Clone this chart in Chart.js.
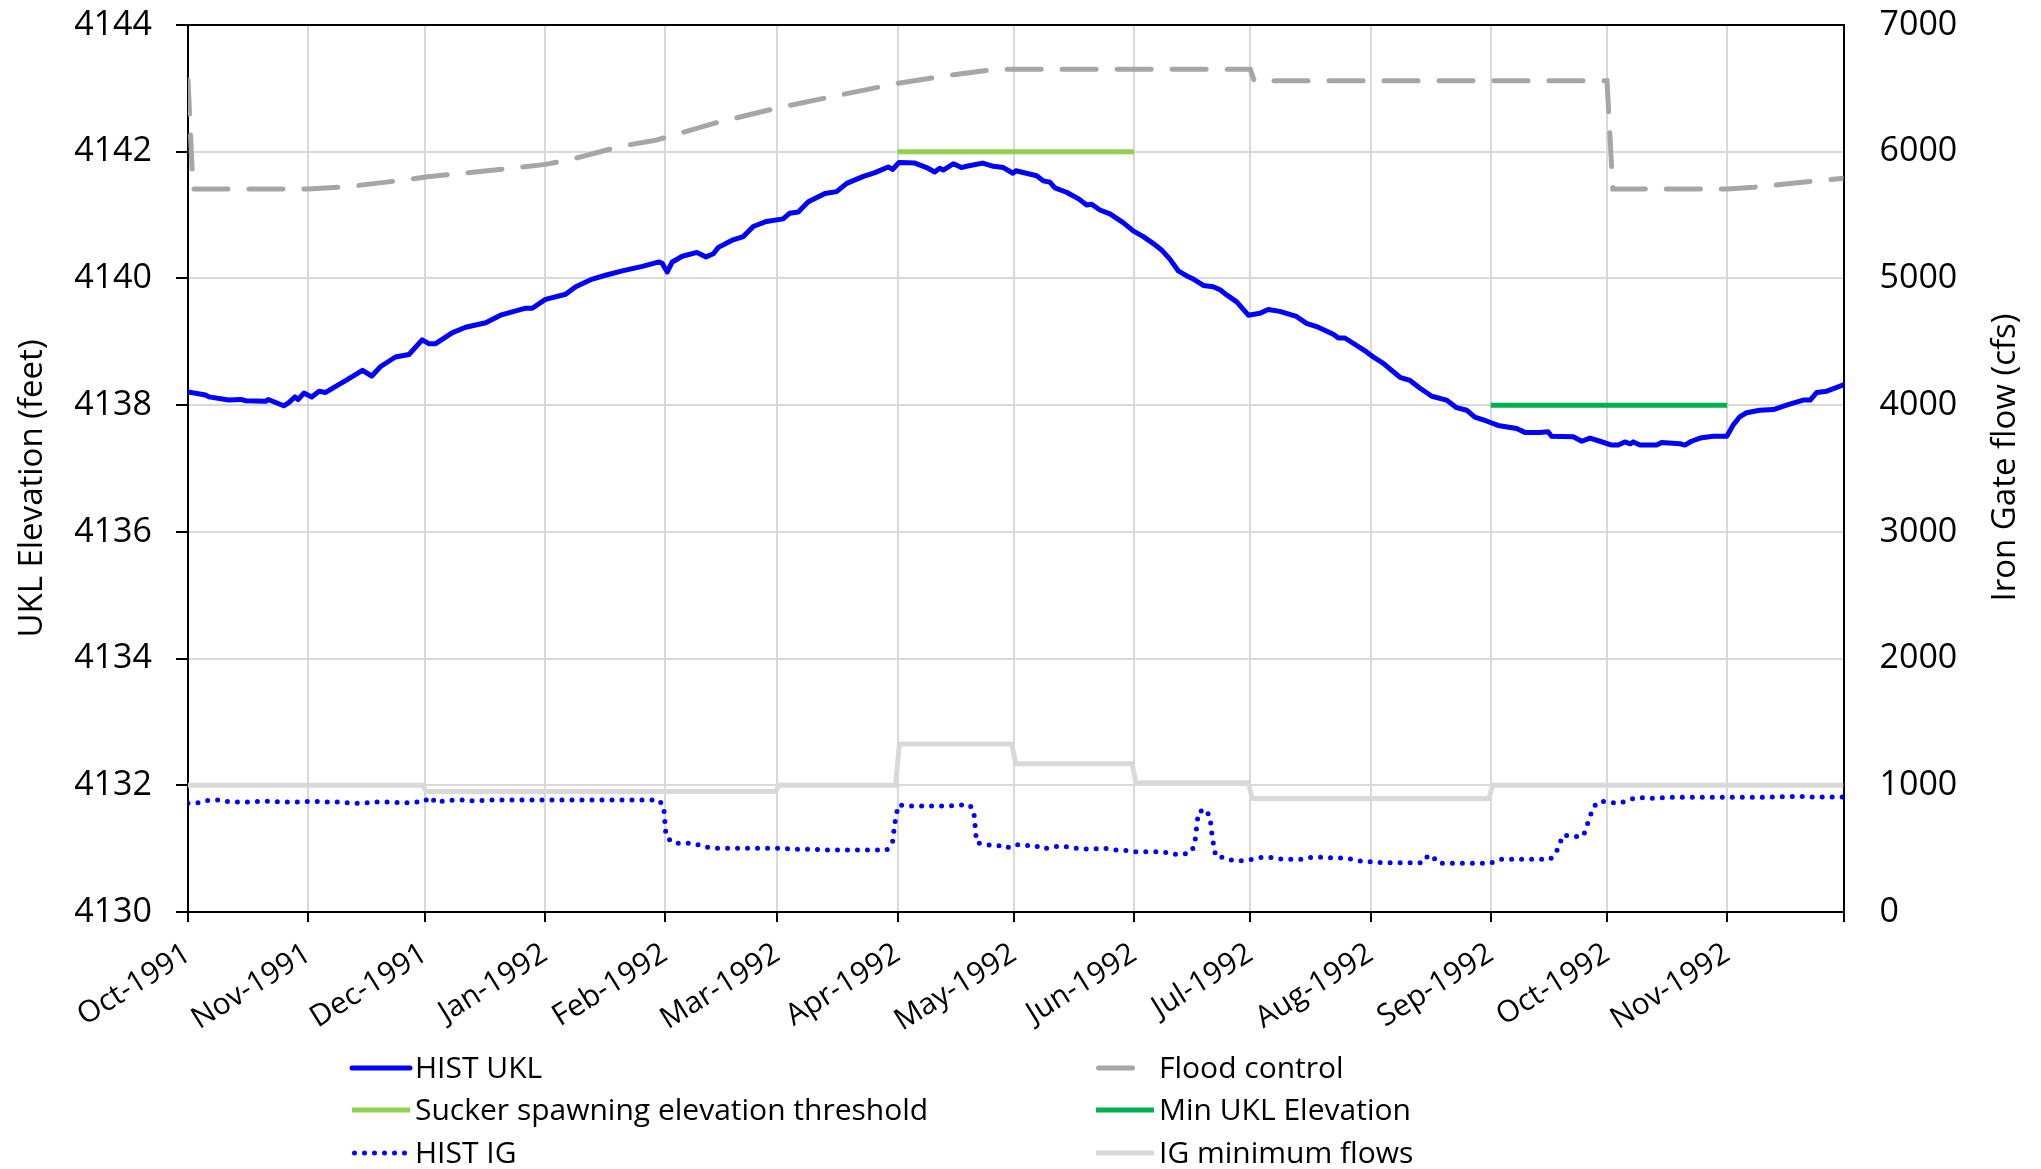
<!DOCTYPE html>
<html>
<head>
<meta charset="utf-8">
<title>UKL elevation and Iron Gate flow, WY1992</title>
<script src="https://cdn.jsdelivr.net/npm/chart.js@4.4.1/dist/chart.umd.min.js"></script>
<style>
  html, body { margin: 0; padding: 0; background: #ffffff; }
  #wrap { width: 2041px; height: 1169px; position: relative; }
</style>
</head>
<body>
<div id="wrap"><canvas id="chart"></canvas></div>
<script>
// Horizontal positions are days counted from 1 Oct 1991.
const monthTickDays = [0, 31, 61, 92, 123, 152, 183, 213, 244, 274, 305, 336, 366, 397, 427];
const monthLabels = ['Oct-1991', 'Nov-1991', 'Dec-1991', 'Jan-1992', 'Feb-1992', 'Mar-1992',
  'Apr-1992', 'May-1992', 'Jun-1992', 'Jul-1992', 'Aug-1992', 'Sep-1992', 'Oct-1992', 'Nov-1992'];

// Upper Klamath Lake elevation (feet)
const uklDays = [0, 4.5, 5.4, 10.5, 13.6, 14.9, 20, 20.7, 24.7, 26, 27.6, 28.4, 29.9, 31.9, 33.8, 35.5,
  41.5, 45, 47.4, 49.7, 53.5, 57, 60.4, 62.1, 63.9, 68.1, 71.6, 76.8, 80.6, 87.1, 88.8, 92.2, 97.4,
  100, 104.3, 107.7, 112, 117.2, 121.5, 122.3, 123.6, 124.9, 127.5, 131.3, 133.6, 135.5, 136.8, 140.6,
  143.2, 145.8, 149.2, 153.5, 155.2, 157.4, 160, 164.3, 167.3, 169.9, 174.2, 177.2, 180.6, 181.7,
  183.4, 187.5, 190.5, 192.6, 193.9, 194.8, 197.4, 199.5, 200.8, 205, 207.7, 210.3, 212.8, 213.5,
  218.9, 220.6, 222.3, 223.6, 226.6, 229.6, 231.8, 233.1, 235.2, 237.8, 241.2, 243.8, 246.4, 249,
  251.1, 253.3, 255.4, 257.6, 259.3, 261.9, 264.4, 266.2, 267.9, 270.5, 273.5, 276.5, 278.6, 281.6,
  285.9, 288.5, 291.1, 295.4, 296.7, 298.4, 304, 305.7, 308.3, 312.6, 315.2, 317.7, 320.8, 324.6,
  327.2, 329.8, 331.9, 334.9, 337.9, 342.7, 344.8, 348.7, 350.8, 351.7, 357.3, 359.5, 361.6, 364.2,
  367.2, 368.9, 370.6, 372, 372.8, 374.5, 378.8, 380.1, 384.8, 386.1, 387.8, 390, 393.4, 396.9,
  398.6, 400.3, 402, 405.4, 408.9, 412.3, 416.6, 418.4, 420.1, 422.7, 427];
const uklElev = [4138.21, 4138.16, 4138.13, 4138.08, 4138.09, 4138.07, 4138.06, 4138.09, 4137.99, 4138.04,
  4138.13, 4138.09, 4138.19, 4138.13, 4138.22, 4138.20, 4138.42, 4138.55, 4138.46, 4138.61, 4138.76,
  4138.80, 4139.03, 4138.97, 4138.97, 4139.14, 4139.23, 4139.30, 4139.42, 4139.53, 4139.53, 4139.67,
  4139.75, 4139.87, 4139.99, 4140.05, 4140.12, 4140.19, 4140.26, 4140.24, 4140.10, 4140.26, 4140.35,
  4140.41, 4140.34, 4140.39, 4140.49, 4140.61, 4140.66, 4140.82, 4140.90, 4140.94, 4141.03, 4141.05,
  4141.21, 4141.34, 4141.37, 4141.50, 4141.61, 4141.67, 4141.76, 4141.72, 4141.83, 4141.82, 4141.75,
  4141.68, 4141.74, 4141.71, 4141.81, 4141.75, 4141.77, 4141.82, 4141.77, 4141.75, 4141.66, 4141.70,
  4141.62, 4141.54, 4141.52, 4141.43, 4141.36, 4141.26, 4141.16, 4141.17, 4141.08, 4141.02, 4140.88,
  4140.75, 4140.66, 4140.55, 4140.45, 4140.30, 4140.12, 4140.04, 4139.99, 4139.89, 4139.87, 4139.82,
  4139.74, 4139.63, 4139.42, 4139.45, 4139.51, 4139.48, 4139.40, 4139.29, 4139.24, 4139.12, 4139.06,
  4139.06, 4138.84, 4138.76, 4138.66, 4138.44, 4138.39, 4138.27, 4138.14, 4138.08, 4137.96, 4137.92,
  4137.81, 4137.75, 4137.68, 4137.63, 4137.57, 4137.57, 4137.58, 4137.51, 4137.50, 4137.43, 4137.48,
  4137.43, 4137.37, 4137.37, 4137.42, 4137.39, 4137.42, 4137.37, 4137.37, 4137.41, 4137.39, 4137.37,
  4137.43, 4137.48, 4137.51, 4137.51, 4137.69, 4137.82, 4137.88, 4137.92, 4137.93, 4138.00, 4138.08,
  4138.08, 4138.20, 4138.22, 4138.32];

// Flood control elevation (feet)
const floodDays = [0, 1.3, 31, 41.5, 55.3, 61.3, 83.6, 92.2, 98.2, 112, 120.6, 137, 152, 167, 183, 198,
  208, 274, 275, 366, 367.5, 397, 404, 412, 427];
const floodElev = [4143.13, 4141.41, 4141.41, 4141.45, 4141.55, 4141.60, 4141.74, 4141.80, 4141.87,
  4142.09, 4142.18, 4142.47, 4142.69, 4142.88, 4143.08, 4143.22, 4143.30, 4143.30, 4143.12, 4143.12,
  4141.41, 4141.41, 4141.44, 4141.49, 4141.58];

// Sucker spawning elevation threshold, Apr-May 1992
const spawnDays = [183, 244];
const spawnElev = [4142, 4142];

// Minimum UKL elevation, Sep-Oct 1992
const minUklDays = [336, 397];
const minUklElev = [4138, 4138];

// Iron Gate flow (cfs)
const igDays = [0, 3, 5.6, 8.2, 10.8, 16.1, 18.7, 21.3, 23.9, 29.3, 31.9, 34.5, 39.8, 42.4, 44.9, 47.5,
  52.9, 55.5, 58.1, 60.7, 62.6, 63.9, 66.4, 69, 71.6, 74.2, 76.8, 121.5, 122.7, 123.3, 125.3, 130.5,
  133.1, 135.5, 153.5, 156.1, 161.3, 164.3, 180.2, 181.7, 182.3, 183.2, 185.8, 196.5, 199.1, 201.7,
  202.7, 203.4, 205.8, 208.6, 211, 213.3, 215.6, 218.2, 220.6, 223.2, 225.7, 228.3, 230.9, 233.5,
  236.1, 238.6, 241.2, 243.8, 251.5, 254.1, 256.7, 258.9, 259.7, 260.6, 262.4, 263.6, 264.2, 265.1,
  267.4, 269.6, 272.2, 274.5, 276.9, 279.5, 282.1, 287.2, 289.8, 292.8, 295.4, 298, 300.5, 303.1,
  305.7, 308.3, 318.6, 319.9, 321, 322.5, 335.8, 338.4, 351.3, 352.8, 354.7, 357.3, 359.9, 362.5,
  364.2, 366.8, 369.3, 371.7, 374.3, 377, 382, 400, 410, 415.9, 417, 427];
const igFlow = [858, 862, 884, 884, 868, 868, 875, 875, 868, 868, 875, 868, 868, 858, 858, 868,
  868, 858, 868, 868, 910, 862, 879, 884, 884, 875, 884, 884, 831, 594, 542, 542,
  515, 503, 503, 495, 495, 489, 489, 547, 700, 844, 837, 837, 844, 844,
  787, 547, 529, 529, 503, 534, 521, 529, 497, 515, 520, 505, 497, 497,
  505, 489, 489, 476, 476, 455, 455, 476, 547, 787, 813, 750, 587, 437,
  431, 405, 405, 416, 431, 431, 416, 416, 432, 432, 426, 426, 416, 397,
  397, 389, 389, 450, 440, 384, 384, 416, 416, 463, 608, 595, 600, 830,
  876, 863, 858, 889, 905, 897, 905, 905, 907, 915, 907, 907];

// Iron Gate minimum flow schedule (cfs)
const igMinDays = [0, 60.5, 61.5, 151.5, 152.5, 182.5, 183.5, 212.5, 213.5, 243.5, 244.5, 273.5, 274.5,
  335.5, 336.5, 427];
const igMinFlow = [1000, 1000, 950, 950, 1000, 1000, 1325, 1325, 1170, 1170, 1020, 1020, 895, 895,
  1000, 1000];

// Axis titles, both read bottom to top
const leftTitle = 'UKL Elevation (feet)';
const rightTitle = 'Iron Gate flow (cfs)';

const FONT = "'Open Sans', 'Noto Sans', sans-serif";
const pts = (xs, ys) => xs.map((x, i) => ({ x: x, y: ys[i] }));

Chart.defaults.color = '#000000';
Chart.defaults.font.family = FONT;

const datasets = [
  { label: 'HIST UKL', data: pts(uklDays, uklElev), yAxisID: 'y',
    borderColor: '#0000ff', borderWidth: 5, borderCapStyle: 'round', borderJoinStyle: 'round' },
  { label: 'Flood control', data: pts(floodDays, floodElev), yAxisID: 'y',
    borderColor: '#a6a6a6', borderWidth: 5, borderDash: [34, 21], borderCapStyle: 'round' },
  { label: 'Sucker spawning elevation threshold', data: pts(spawnDays, spawnElev), yAxisID: 'y',
    borderColor: '#92d050', borderWidth: 5 },
  { label: 'Min UKL Elevation', data: pts(minUklDays, minUklElev), yAxisID: 'y',
    borderColor: '#00b050', borderWidth: 5 },
  { label: 'HIST IG', data: pts(igDays, igFlow), yAxisID: 'y2',
    borderColor: '#0000ff', borderWidth: 5, borderDash: [0, 10], borderCapStyle: 'round' },
  { label: 'IG minimum flows', data: pts(igMinDays, igMinFlow), yAxisID: 'y2',
    borderColor: '#d9d9d9', borderWidth: 5 }
];

// Two-column legend under the plot: [dataset index, column, row]
const legendLayout = [[0, 0, 0], [1, 1, 0], [2, 0, 1], [3, 1, 1], [4, 0, 2], [5, 1, 2]];
const legendCols = [352, 1096];
const legendRows = [1068, 1110, 1153];

const legendPlugin = {
  id: 'twoColumnLegend',
  afterDraw(chart) {
    const ctx = chart.ctx;
    ctx.save();
    ctx.font = '30px ' + FONT;
    ctx.textBaseline = 'middle';
    ctx.fillStyle = '#000000';
    legendLayout.forEach(([di, col, row]) => {
      const ds = chart.data.datasets[di];
      const x0 = legendCols[col];
      const y = legendRows[row];
      const dash = ds.borderDash || [];
      const w = ds.borderWidth;
      ctx.save();
      ctx.strokeStyle = ds.borderColor;
      ctx.lineWidth = w;
      ctx.setLineDash(dash);
      ctx.lineCap = ds.borderCapStyle || 'butt';
      ctx.beginPath();
      if (dash.length && dash[0] > 0) {
        ctx.moveTo(x0 + w / 2, y);
        ctx.lineTo(x0 + w / 2 + dash[0], y);
      } else if (dash.length) {
        ctx.moveTo(x0 + w / 2, y);
        ctx.lineTo(x0 + 55, y);
      } else {
        ctx.moveTo(x0, y);
        ctx.lineTo(x0 + 58, y);
      }
      ctx.stroke();
      ctx.restore();
      ctx.fillText(ds.label, x0 + 63, y + 1);
    });
    ctx.restore();
  }
};

// Top edge of the plot frame and the two vertical axis titles
const framePlugin = {
  id: 'frameAndTitles',
  beforeDatasetsDraw(chart) {
    const a = chart.chartArea;
    const ctx = chart.ctx;
    ctx.save();
    ctx.strokeStyle = '#000000';
    ctx.lineWidth = 2;
    ctx.beginPath();
    ctx.moveTo(a.left - 1, a.top);
    ctx.lineTo(a.right + 1, a.top);
    ctx.stroke();
    ctx.restore();
  },
  afterDraw(chart) {
    const ctx = chart.ctx;
    const a = chart.chartArea;
    const mid = (a.top + a.bottom) / 2;
    const drawTitle = (text, x, y) => {
      ctx.save();
      ctx.translate(x, y);
      ctx.rotate(-Math.PI / 2);
      ctx.font = '33px ' + FONT;
      ctx.fillStyle = '#000000';
      ctx.textAlign = 'center';
      ctx.textBaseline = 'middle';
      ctx.fillText(text, 0, 0);
      ctx.restore();
    };
    drawTitle(leftTitle, 33, mid + 20);
    drawTitle(rightTitle, 2006, mid - 11);
  }
};

new Chart(document.getElementById('chart'), {
  type: 'line',
  data: { datasets: datasets },
  plugins: [legendPlugin, framePlugin],
  options: {
    responsive: true,
    maintainAspectRatio: false,
    devicePixelRatio: 1,
    animation: false,
    events: [],
    layout: { padding: { top: 25, left: 0, right: 0, bottom: 0 } },
    elements: { point: { radius: 0 }, line: { tension: 0, fill: false } },
    plugins: { legend: { display: false }, tooltip: { enabled: false } },
    scales: {
      x: {
        type: 'linear',
        min: 0,
        max: 427,
        afterBuildTicks(scale) { scale.ticks = monthTickDays.map(v => ({ value: v })); },
        afterFit(scale) { scale.height = 257; },
        ticks: {
          autoSkip: false,
          minRotation: 32,
          maxRotation: 32,
          padding: 14,
          font: { size: 30, family: FONT },
          color: '#000000',
          callback: (value, index) => monthLabels[index] || ''
        },
        grid: { color: '#d9d9d9', lineWidth: 2, tickLength: 10, tickColor: '#000000', tickWidth: 2 },
        border: { color: '#000000', width: 2 }
      },
      y: {
        position: 'left',
        min: 4130,
        max: 4144,
        afterFit(scale) { scale.width = 188; scale.paddingTop = 0; scale.paddingBottom = 0; },
        ticks: { stepSize: 2, padding: 24, font: { size: 34, family: FONT }, color: '#000000',
          callback: v => String(v) },
        grid: { color: '#d9d9d9', lineWidth: 2, tickLength: 12, tickColor: '#000000', tickWidth: 2 },
        border: { color: '#000000', width: 2 }
      },
      y2: {
        position: 'right',
        min: 0,
        max: 7000,
        afterFit(scale) { scale.width = 197.5; scale.paddingTop = 0; scale.paddingBottom = 0; },
        ticks: { stepSize: 1000, padding: 36, font: { size: 34, family: FONT }, color: '#000000',
          callback: v => String(v) },
        grid: { drawOnChartArea: false, drawTicks: false },
        border: { color: '#000000', width: 2 }
      }
    }
  }
});
</script>
</body>
</html>
